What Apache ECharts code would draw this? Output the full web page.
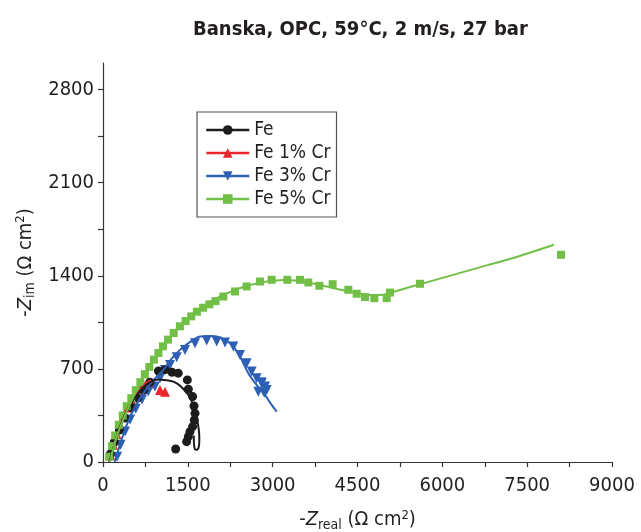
<!DOCTYPE html>
<html>
<head>
<meta charset="utf-8">
<script src="https://cdn.jsdelivr.net/npm/echarts@6/dist/echarts.min.js"></script>
<style>html,body{margin:0;padding:0;background:#fff}#c{width:641px;height:532px}</style>
</head>
<body>
<div id="c"></div>
<script>
// ---- tick values ----
const xTicks = [0, 750, 1500, 2250, 3000, 3750, 4500, 5250, 6000, 6750, 7500, 8250, 9000];
const xLabels = [0, 1500, 3000, 4500, 6000, 7500, 9000];
const yTicks = [0, 350, 700, 1050, 1400, 1750, 2100, 2450, 2800];
const yLabels = [0, 700, 1400, 2100, 2800];

// ---- series names ----
const names = ['Fe', 'Fe 1% Cr', 'Fe 3% Cr', 'Fe 5% Cr'];

// ---- Fe (measured) ----
const feX = [130, 200, 290, 390, 500, 610, 720, 830, 980, 1100, 1220, 1330, 1491, 1509, 1585, 1609, 1627, 1615, 1585, 1538, 1509, 1479, 1285];
const feY = [60, 150, 240, 330, 410, 480, 540, 600, 685, 695, 675, 668, 617, 547, 492, 421, 366, 316, 266, 228, 191, 153, 98];
// ---- Fe (fit) ----
const feFitX = [110, 200, 300, 420, 536, 630, 713, 800, 890, 980, 1067, 1160, 1244, 1320, 1391, 1460, 1527, 1580, 1627, 1660, 1686, 1700, 1703, 1697, 1686, 1660, 1627, 1610, 1605];
const feFitY = [0, 130, 265, 380, 467, 520, 562, 592, 612, 620, 617, 612, 604, 587, 562, 530, 492, 445, 391, 330, 266, 215, 166, 125, 103, 92, 95, 130, 200];

// ---- Fe 1% Cr ----
const cr1X = [130, 180, 240, 300, 370, 440, 510, 580, 650, 713, 790, 860, 1008, 1096];
const cr1Y = [50, 130, 210, 280, 350, 410, 460, 505, 545, 580, 604, 590, 542, 529];
const cr1FitX = [120, 200, 300, 400, 500, 600, 700, 780, 850];
const cr1FitY = [0, 130, 260, 370, 450, 515, 565, 600, 615];

// ---- Fe 3% Cr ----
const cr3X = [250, 310, 390, 480, 580, 690, 800, 919, 1008, 1096, 1185, 1303, 1450, 1627, 1833, 2010, 2157, 2304, 2422, 2540, 2629, 2716, 2805, 2864, 2894, 2746, 2850, 2800];
const cr3Y = [40, 130, 230, 320, 400, 470, 530, 567, 630, 692, 730, 788, 843, 893, 913, 906, 898, 868, 805, 743, 680, 630, 592, 567, 542, 529, 520, 600];
const cr3FitX = [210, 300, 420, 560, 720, 880, 1067, 1200, 1361, 1530, 1715, 1921, 2098, 2275, 2422, 2569, 2716, 2864, 2982, 3072];
const cr3FitY = [0, 130, 280, 410, 520, 610, 692, 770, 843, 900, 943, 948, 931, 881, 793, 668, 580, 504, 429, 379];

// ---- Fe 5% Cr ----
const cr5X = [110, 160, 215, 280, 350, 420, 500, 580, 660, 740, 820, 900, 980, 1060, 1150, 1250, 1360, 1460, 1560, 1660, 1770, 1880, 1990, 2127, 2334, 2540, 2776, 2982, 3259, 3483, 3630, 3825, 4060, 4338, 4485, 4633, 4797, 5016, 5074, 5605, 8098];
const cr5Y = [40, 120, 200, 280, 350, 420, 480, 540, 600, 660, 715, 770, 820, 870, 920, 970, 1020, 1060, 1095, 1130, 1160, 1185, 1210, 1244, 1282, 1320, 1357, 1370, 1370, 1370, 1350, 1325, 1337, 1295, 1265, 1240, 1232, 1232, 1274, 1340, 1558];
const cr5FitX = [120, 250, 400, 550, 700, 850, 1000, 1200, 1400, 1600, 1800, 2000, 2200, 2400, 2600, 2800, 3000, 3200, 3400, 3600, 3800, 4000, 4200, 4400, 4600, 4800, 4950, 5100, 5400, 5800, 6300, 6800, 7300, 7974];
const cr5FitY = [0, 200, 360, 500, 620, 730, 830, 950, 1045, 1120, 1180, 1230, 1270, 1305, 1330, 1350, 1362, 1368, 1365, 1352, 1335, 1315, 1295, 1278, 1263, 1255, 1258, 1275, 1312, 1360, 1420, 1480, 1540, 1633];

const colors = ['#1c1c1c', '#e8262c', '#2d5fb4', '#72bf47'];
const downTri = 'path://M0,0L10,0L5,9Z';
const symbols = ['circle', 'triangle', downTri, 'rect'];
const symSizes = [9, 10, 10, 8];

function zip(xs, ys) { return xs.map((x, i) => [x, ys[i]]); }
const fits = [[feFitX, feFitY], [cr1FitX, cr1FitY], [cr3FitX, cr3FitY], [cr5FitX, cr5FitY]];
const pts = [[feX, feY], [cr1X, cr1Y], [cr3X, cr3Y], [cr5X, cr5Y]];

const FONT = "'Liberation Sans Narrow', 'DejaVu Sans Condensed', 'Liberation Sans', sans-serif";
const TXT = '#231f20';
const series = [];
const order = [1, 2, 0, 3];
order.forEach(i => {
  series.push({
    name: names[i] + ' data', type: 'scatter', data: zip(pts[i][0], pts[i][1]),
    symbol: symbols[i], symbolSize: symSizes[i],
    itemStyle: { color: colors[i], opacity: 1 }, z: 3, silent: true
  });
});
order.forEach(i => {
  series.push({
    name: names[i], type: 'line', data: zip(fits[i][0], fits[i][1]),
    symbol: symbols[i], showSymbol: false, smooth: 0.35,
    lineStyle: { color: colors[i], width: 2 }, itemStyle: { color: colors[i] },
    z: 4, silent: true
  });
});

function nameStyle() {
  return {
    fontFamily: FONT, fontSize: 20, color: TXT,
    rich: {
      z: { fontFamily: FONT, fontSize: 20, fontStyle: 'italic', color: TXT },
      sub: { fontFamily: FONT, fontSize: 14, color: TXT, padding: [10, 0, 0, 0] },
      sup: { fontFamily: FONT, fontSize: 13, color: TXT, padding: [0, 0, 9, 0] }
    }
  };
}
const plain = v => String(v);

const chart = echarts.init(document.getElementById('c'), null, { renderer: 'canvas' });
chart.setOption({
  animation: false,
  backgroundColor: '#fff',
  title: {
    text: 'Banska, OPC, 59°C, 2 m/s, 27 bar', left: 193, top: 20,
    padding: 0,
    textStyle: { fontFamily: FONT, fontWeight: 'bold', fontSize: 20, color: TXT }
  },
  legend: {
    data: names, orient: 'vertical', left: 197, top: 112,
    itemWidth: 43, itemHeight: 12, itemGap: 3,
    borderColor: '#555', borderWidth: 1.2, borderRadius: 0,
    padding: [8, 6, 8, 8],
    textStyle: { fontFamily: FONT, fontSize: 19, color: TXT, lineHeight: 20 },
    lineStyle: { width: 2.5 }
  },
  grid: { left: 103, right: 29, top: 63, bottom: 70, containLabel: false, outerBoundsMode: 'none' },
  xAxis: {
    type: 'value', min: 0, max: 9000, interval: 750,
    name: '-{z|Z}{sub|real} (Ω cm{sup|2})', nameLocation: 'middle', nameGap: 46,
    nameTextStyle: nameStyle(),
    axisLine: { show: true, lineStyle: { color: '#333', width: 1.2 } },
    axisTick: { show: true, length: 5, inside: false, customValues: xTicks, lineStyle: { color: '#333', width: 1.2 } },
    axisLabel: { customValues: xLabels, formatter: plain, fontFamily: FONT, fontSize: 20, color: TXT, margin: 14 },
    splitLine: { show: false }
  },
  yAxis: {
    type: 'value', min: 0, max: 3000, interval: 350,
    name: '-{z|Z}{sub|im} (Ω cm{sup|2})', nameLocation: 'middle', nameGap: 57, nameRotate: 90,
    nameTextStyle: nameStyle(),
    axisLine: { show: true, lineStyle: { color: '#333', width: 1.2 } },
    axisTick: { show: true, length: 5, inside: false, customValues: yTicks, lineStyle: { color: '#333', width: 1.2 } },
    axisLabel: { customValues: yLabels, formatter: plain, fontFamily: FONT, fontSize: 20, color: TXT, margin: 9 },
    splitLine: { show: false }
  },
  series: series
});
</script>
</body>
</html>
